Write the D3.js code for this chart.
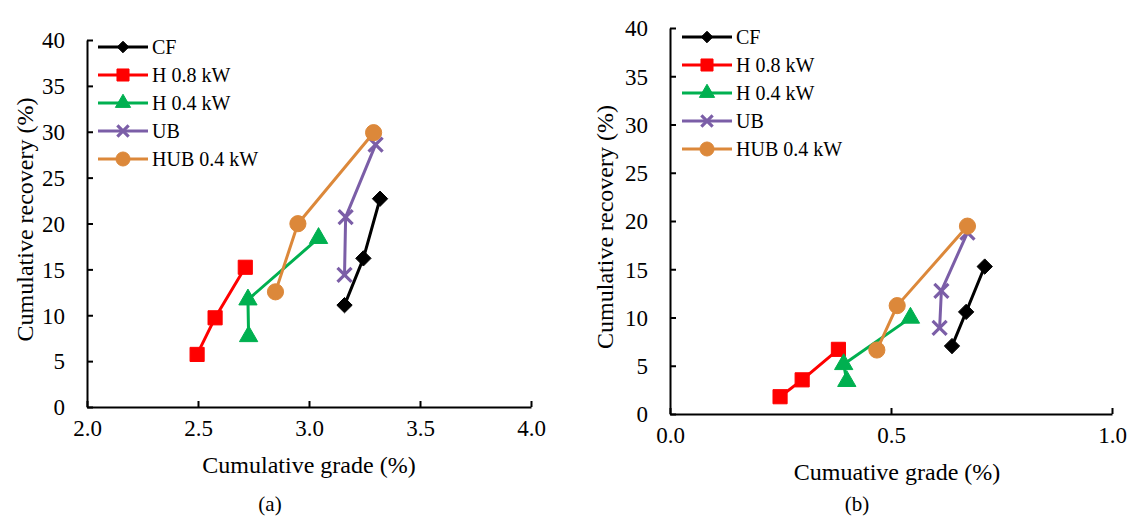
<!DOCTYPE html>
<html>
<head>
<meta charset="utf-8">
<script src="https://cdn.jsdelivr.net/npm/d3@7/dist/d3.min.js"></script>
<style>
  html, body { margin: 0; padding: 0; background: #fff; }
  svg { display: block; }
</style>
</head>
<body>
<svg id="chart" width="1131" height="517" font-family="Liberation Serif, Times New Roman, serif"></svg>
<script>
// Series shared by both panels
const seriesNames = ["CF", "H 0.8 kW", "H 0.4 kW", "UB", "HUB 0.4 kW"];

// Panel (a): cumulative grade (%) and cumulative recovery (%) per series
const gradeA = [
  [3.16, 3.245, 3.32],
  [2.496, 2.577, 2.713],
  [2.728, 2.725, 3.043],
  [3.16, 3.165, 3.30],
  [2.849, 2.95, 3.291]
];
const recoveryA = [
  [11.1, 16.2, 22.7],
  [5.73, 9.72, 15.23],
  [7.7, 11.7, 18.4],
  [14.4, 20.7, 28.6],
  [12.55, 19.98, 29.9]
];

// Panel (b)
const gradeB = [
  [0.638, 0.670, 0.712],
  [0.249, 0.299, 0.381],
  [0.400, 0.393, 0.544],
  [0.610, 0.614, 0.673],
  [0.468, 0.514, 0.673]
];
const recoveryB = [
  [7.04, 10.58, 15.28],
  [1.79, 3.54, 6.70],
  [3.4, 5.15, 9.96],
  [8.93, 12.77, 18.8],
  [6.63, 11.23, 19.47]
];

// Tick values
const yTicks = [0, 5, 10, 15, 20, 25, 30, 35, 40];
const xTicksA = [2.0, 2.5, 3.0, 3.5, 4.0];
const xTicksB = [0.0, 0.5, 1.0];

const FONT = "Liberation Serif, Times New Roman, serif";
const colors = ["#000000", "#ff0000", "#00b050", "#7b5ea7", "#dc883a"];
const symbols = [d3.symbolDiamond2, d3.symbolSquare, d3.symbolTriangle, d3.symbolTimes, d3.symbolCircle];
const symbolSizes = [150, 200, 145, 130, 205];
const legendSizes = [85, 145, 100, 85, 155];

const svg = d3.select("#chart");
svg.append("rect").attr("width", 1131).attr("height", 517).attr("fill", "#fff");

function markerShape(g, i, x, y, size) {
  const path = d3.symbol().type(symbols[i]).size(size)();
  const m = g.append("path")
    .attr("d", path)
    .attr("transform", `translate(${x},${y})`);
  if (symbols[i] === d3.symbolTimes) {
    m.attr("fill", "none").attr("stroke", colors[i]).attr("stroke-width", 3.2);
  } else {
    m.attr("fill", colors[i]).attr("stroke", colors[i]).attr("stroke-width", 1);
  }
}

function label(g, size) {
  return g.append("text").attr("font-family", FONT).attr("font-size", size).attr("fill", "#000");
}

function drawPanel(cfg) {
  const g = svg.append("g");
  const x = d3.scaleLinear().domain(cfg.xDomain).range([cfg.left, cfg.right]);
  const y = d3.scaleLinear().domain([0, 40]).range([cfg.bottom, cfg.top]);

  // y axis, ticks pointing inward
  const yAxis = d3.axisLeft(y).tickValues(yTicks).tickFormat(d3.format("d"))
    .tickSizeInner(-6).tickSizeOuter(0).tickPadding(22);
  const ya = g.append("g").attr("transform", `translate(${cfg.left},0)`).call(yAxis);
  // x axis, ticks pointing upward
  const xAxis = d3.axisBottom(x).tickValues(cfg.xTicks).tickFormat(d3.format(".1f"))
    .tickSizeInner(-6).tickSizeOuter(0).tickPadding(24);
  const xa = g.append("g").attr("transform", `translate(0,${cfg.bottom})`).call(xAxis);

  [ya, xa].forEach(a => {
    a.attr("font-family", FONT).attr("font-size", 23);
    a.select(".domain").attr("stroke", "#000").attr("stroke-width", 2);
    a.selectAll(".tick line").attr("stroke", "#000").attr("stroke-width", 2);
    a.selectAll(".tick text").attr("font-family", FONT).attr("font-size", 23).attr("fill", "#000");
  });
  ya.selectAll(".tick text").attr("dy", "0.34em");
  xa.selectAll(".tick text").attr("dy", "0.2em");

  // series lines and markers
  const line = d3.line().x(d => x(d[0])).y(d => y(d[1]));
  seriesNames.forEach((name, i) => {
    const pts = cfg.grade[i].map((gv, k) => [gv, cfg.recovery[i][k]]);
    const sg = g.append("g");
    sg.append("path").datum(pts).attr("d", line)
      .attr("fill", "none").attr("stroke", colors[i]).attr("stroke-width", 3)
      .attr("stroke-linejoin", "round");
    pts.forEach(p => markerShape(sg, i, x(p[0]), y(p[1]), symbolSizes[i]));
  });

  // legend
  const lg = g.append("g");
  seriesNames.forEach((name, i) => {
    const ly = cfg.legendY + i * 28;
    lg.append("line").attr("x1", cfg.legendX).attr("x2", cfg.legendX + 50)
      .attr("y1", ly).attr("y2", ly).attr("stroke", colors[i]).attr("stroke-width", 3);
    markerShape(lg, i, cfg.legendX + 25, ly, legendSizes[i]);
    label(lg, 20).attr("x", cfg.legendX + 54).attr("y", ly).attr("dy", "0.34em").text(name);
  });

  // axis titles
  label(g, 24)
    .attr("transform", `translate(${cfg.yTitleX},${(cfg.top + cfg.bottom) / 2 + cfg.yTitleShift}) rotate(-90)`)
    .attr("text-anchor", "middle").attr("dy", "0.34em")
    .text("Cumulative recovery (%)");
  label(g, 24)
    .attr("x", (cfg.left + cfg.right) / 2 + cfg.xTitleShift).attr("y", cfg.xTitleY)
    .attr("text-anchor", "middle").attr("dy", "0.34em")
    .text(cfg.xTitle);
  label(g, 21)
    .attr("x", cfg.tagX).attr("y", 504)
    .attr("text-anchor", "middle").attr("dy", "0.34em")
    .text(cfg.tag);
}

drawPanel({
  left: 87, right: 531, top: 40, bottom: 407,
  xDomain: [2, 4], xTicks: xTicksA,
  grade: gradeA, recovery: recoveryA,
  legendX: 98, legendY: 47,
  yTitleX: 25, yTitleShift: -4, xTitleY: 465, xTitleShift: 0,
  xTitle: "Cumulative grade (%)", tag: "(a)", tagX: 270
});

drawPanel({
  left: 670, right: 1112, top: 28, bottom: 414,
  xDomain: [0, 1], xTicks: xTicksB,
  grade: gradeB, recovery: recoveryB,
  legendX: 682, legendY: 37,
  yTitleX: 605, yTitleShift: 6, xTitleY: 472, xTitleShift: 6,
  xTitle: "Cumuative grade (%)", tag: "(b)", tagX: 857
});
</script>
</body>
</html>
